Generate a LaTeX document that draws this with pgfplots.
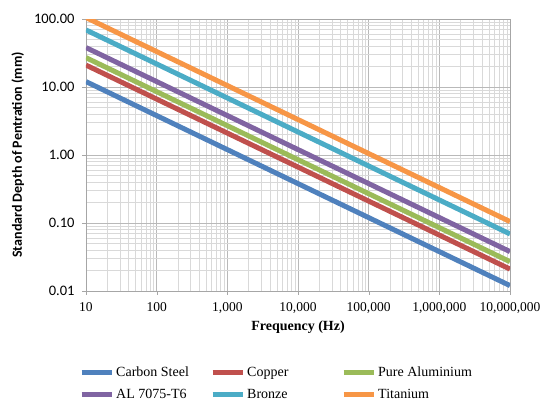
\documentclass[border=0pt]{standalone}
\usepackage{fontspec}
\setmainfont{Liberation Serif}
\newfontfamily\calibri{Carlito}
\usepackage{pgfplots}
\pgfplotsset{compat=1.18}
\definecolor{cBlue}{HTML}{4F81BD}
\definecolor{cRed}{HTML}{C0504D}
\definecolor{cGreen}{HTML}{9BBB59}
\definecolor{cPurple}{HTML}{8064A2}
\definecolor{cAqua}{HTML}{4BACC6}
\definecolor{cOrange}{HTML}{F79646}
\begin{document}
\begin{tikzpicture}[x=1pt,y=1pt]
\begin{loglogaxis}[
  at={(0,0)}, anchor=south west,
  scale only axis, width=424pt, height=272pt,
  xmin=10, xmax=1e7, ymin=0.01, ymax=100,
  xtick={10,100,1000,10000,100000,1000000,10000000},
  xticklabels={10,100,{1,000},{10,000},{100,000},{1,000,000},{10,000,000}},
  ytick={0.01,0.1,1,10,100},
  yticklabels={0.01,0.10,1.00,10.00,100.00},
  grid=both,
  major grid style={gray!55, line width=0.5pt},
  minor grid style={gray!30, line width=0.4pt},
  axis line style={gray!70},
  tick style={gray!70},
  tick align=outside,
  major tick length=4pt,
  minor tick length=0pt,
  xtick pos=bottom, ytick pos=left,
  xticklabel style={font=\fontsize{13.5}{15}\selectfont, yshift=-4pt},
  yticklabel style={font=\calibri\fontsize{14.5}{16}\selectfont, xshift=-4pt},
  /pgf/number format/assume math mode=true,
  xlabel={\textbf{Frequency (Hz)}},
  xlabel style={font=\fontsize{14}{16}\selectfont, yshift=0pt},
  ylabel={\textbf{Standard Depth of Pentration (mm)}},
  ylabel style={font=\calibri\fontsize{14}{16}\selectfont, yshift=3pt},
  legend columns=3,
  legend cell align=left,
  legend style={at={(axis description cs:0,0)}, anchor=north west,
    xshift=-10pt, yshift=-72pt, draw=none, fill=none,
    font=\fontsize{14}{16}\selectfont,
    /tikz/every odd column/.append style={column sep=0pt},
    row sep=7pt},
  legend image code/.code={\draw[#1, line width=5pt] (0pt,0pt) -- (30pt,0pt);},
  every axis plot/.append style={line width=5pt},
]
\addplot[cBlue] coordinates {(10,12) (1e7,0.012)};
\addlegendentry{\makebox[92pt][l]{Carbon Steel}}
\addplot[cRed] coordinates {(10,21) (1e7,0.021)};
\addlegendentry{\makebox[92pt][l]{Copper}}
\addplot[cGreen] coordinates {(10,27) (1e7,0.027)};
\addlegendentry{\makebox[92pt][l]{Pure Aluminium}}
\addplot[cPurple] coordinates {(10,38) (1e7,0.038)};
\addlegendentry{\makebox[92pt][l]{AL 7075-T6}}
\addplot[cAqua] coordinates {(10,69) (1e7,0.069)};
\addlegendentry{\makebox[92pt][l]{Bronze}}
\addplot[cOrange] coordinates {(10,105) (1e7,0.105)};
\addlegendentry{\makebox[92pt][l]{Titanium}}
\end{loglogaxis}
\pgfresetboundingbox
\path[use as bounding box] (-86pt,-114pt) rectangle (461pt,291pt);
\end{tikzpicture}
\end{document}
